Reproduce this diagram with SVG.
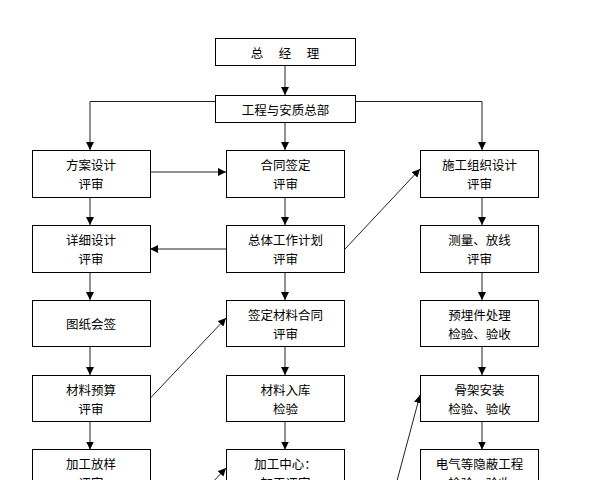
<svg xmlns="http://www.w3.org/2000/svg" width="590" height="480" viewBox="0 0 590 480">
<style>
.box{fill:#fff;stroke:#000;stroke-width:1}
.t{font-family:"Noto Sans CJK SC","Noto Sans CJK TC",sans-serif;font-size:12.5px;fill:#000;text-anchor:middle;dominant-baseline:central}
.c{fill:none;stroke:#222;stroke-width:1}
.ca{fill:none;stroke:#222;stroke-width:1;marker-end:url(#ah)}
</style>
<defs>
<marker id="ah" viewBox="0 0 10 10" refX="10" refY="5" markerWidth="8" markerHeight="8" markerUnits="userSpaceOnUse" orient="auto">
<path d="M0,0 L10,5 L0,10 z" fill="#000"/>
</marker>
</defs>
<rect width="590" height="480" fill="#fff"/>
<g id="connectors">
<line class="ca" x1="285" y1="66" x2="285" y2="95"/>
<polyline class="c" points="215,101.5 90,101.5"/>
<polyline class="c" points="355,101.5 482,101.5"/>
<line class="ca" x1="90" y1="101.5" x2="90" y2="150"/>
<line class="ca" x1="285" y1="122" x2="285" y2="150"/>
<line class="ca" x1="482" y1="101.5" x2="482" y2="150"/>
<line class="ca" x1="150" y1="172" x2="226" y2="172"/>
<line class="ca" x1="90" y1="197" x2="90" y2="225"/>
<line class="ca" x1="285" y1="197" x2="285" y2="225"/>
<line class="ca" x1="482" y1="197" x2="482" y2="225"/>
<line class="ca" x1="226" y1="249" x2="150" y2="249"/>
<line class="ca" x1="345" y1="249" x2="420" y2="169"/>
<line class="ca" x1="90" y1="272" x2="90" y2="300"/>
<line class="ca" x1="285" y1="272" x2="285" y2="300"/>
<line class="ca" x1="482" y1="272" x2="482" y2="300"/>
<line class="ca" x1="90" y1="346" x2="90" y2="375"/>
<line class="ca" x1="150" y1="398.5" x2="226" y2="318"/>
<line class="ca" x1="285" y1="346" x2="285" y2="375"/>
<line class="ca" x1="482" y1="346" x2="482" y2="375"/>
<line class="ca" x1="90" y1="421.5" x2="90" y2="449.5"/>
<line class="ca" x1="285" y1="421.5" x2="285" y2="449.5"/>
<line class="ca" x1="482" y1="421.5" x2="482" y2="449.5"/>
<line class="ca" x1="150" y1="549" x2="226" y2="468"/>
<line class="ca" x1="390" y1="507" x2="420" y2="395"/>
</g>
<g id="n-zjl"><rect class="box" x="215.5" y="38.5" width="140" height="27"/><text class="t" x="257 285 313" y="52">总经理</text></g>
<g id="n-gc"><rect class="box" x="215.5" y="95.5" width="140" height="27"/><text class="t" x="285.5" y="109">工程与安质总部</text></g>

<g id="n-fa"><rect class="box" x="32.5" y="150.5" width="118" height="47"/><text class="t" x="91" y="164">方案设计</text><text class="t" x="91" y="183">评审</text></g>
<g id="n-ht"><rect class="box" x="226.5" y="150.5" width="118" height="47"/><text class="t" x="285.5" y="164">合同签定</text><text class="t" x="285.5" y="183">评审</text></g>
<g id="n-sg"><rect class="box" x="420.5" y="150.5" width="118" height="47"/><text class="t" x="479.5" y="164">施工组织设计</text><text class="t" x="479.5" y="183">评审</text></g>

<g id="n-xx"><rect class="box" x="32.5" y="225.5" width="118" height="47"/><text class="t" x="91" y="239">详细设计</text><text class="t" x="91" y="258">评审</text></g>
<g id="n-zt"><rect class="box" x="226.5" y="225.5" width="118" height="47"/><text class="t" x="285.5" y="239">总体工作计划</text><text class="t" x="285.5" y="258">评审</text></g>
<g id="n-cl"><rect class="box" x="420.5" y="225.5" width="118" height="47"/><text class="t" x="479.5" y="239">测量、放线</text><text class="t" x="479.5" y="258">评审</text></g>

<g id="n-tz"><rect class="box" x="32.5" y="300.5" width="118" height="46"/><text class="t" x="91" y="323.5">图纸会签</text></g>
<g id="n-qd"><rect class="box" x="226.5" y="300.5" width="118" height="46"/><text class="t" x="285.5" y="314">签定材料合同</text><text class="t" x="285.5" y="333">评审</text></g>
<g id="n-ym"><rect class="box" x="420.5" y="300.5" width="118" height="46"/><text class="t" x="479.5" y="314">预埋件处理</text><text class="t" x="479.5" y="333">检验、验收</text></g>

<g id="n-ys"><rect class="box" x="32.5" y="375.5" width="118" height="46"/><text class="t" x="91" y="389">材料预算</text><text class="t" x="91" y="408">评审</text></g>
<g id="n-rk"><rect class="box" x="226.5" y="375.5" width="118" height="46"/><text class="t" x="285.5" y="389">材料入库</text><text class="t" x="285.5" y="408">检验</text></g>
<g id="n-gj"><rect class="box" x="420.5" y="375.5" width="118" height="46"/><text class="t" x="479.5" y="389">骨架安装</text><text class="t" x="479.5" y="408">检验、验收</text></g>

<g id="n-fy"><rect class="box" x="32.5" y="449.5" width="118" height="47"/><text class="t" x="91" y="463">加工放样</text><text class="t" x="91" y="482">评审</text></g>
<g id="n-jg"><rect class="box" x="226.5" y="449.5" width="118" height="47"/><text class="t" x="285.5" y="463">加工中心：</text><text class="t" x="285.5" y="482">加工评审</text></g>
<g id="n-dq"><rect class="box" x="420.5" y="449.5" width="118" height="47"/><text class="t" x="479.5" y="463">电气等隐蔽工程</text><text class="t" x="479.5" y="482">检验、验收</text></g>
</svg>
